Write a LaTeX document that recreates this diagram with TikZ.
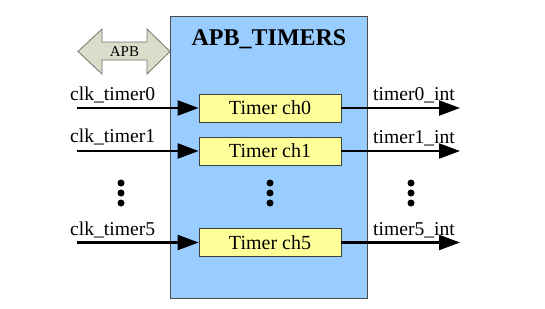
\documentclass[tikz,border=0pt]{standalone}
\usepackage{fontspec}
\setmainfont{Liberation Serif}
\usetikzlibrary{arrows.meta}
\definecolor{blk}{HTML}{99CCFF}
\definecolor{chf}{HTML}{FFFF99}
\definecolor{apbf}{HTML}{DADDC9}
\begin{document}
\begin{tikzpicture}[x=1pt,y=-1pt,
  chbox/.style={draw=black!75,fill=chf,line width=0.8pt,minimum width=142pt,minimum height=28pt,inner sep=0pt,font=\fontsize{20}{21}\selectfont},
  lbl/.style={inner sep=0pt,font=\fontsize{19.6}{21}\selectfont},
  sig/.style={line width=2.2pt,-{Triangle[length=21pt,width=15pt]}},
  vdot/.style={circle,fill=black,inner sep=0pt,minimum size=7pt}]
\useasboundingbox (0,0) rectangle (545,308);
% main block
\node[draw=black!70,fill=blk,line width=1pt,minimum width=197pt,minimum height=282pt,inner sep=0pt] (blk) at (268.5,157) {};
\node[inner sep=0pt,font=\fontsize{24}{25}\bfseries\selectfont,anchor=base] (title) at (269,45) {APB\_TIMERS};
% APB arrow
\draw[draw=black!55,fill=apbf,line width=0.8pt] (78,51.5) -- (102,29) -- (102,42) -- (147,42) -- (147,29) -- (170,51.5) -- (147,74) -- (147,60) -- (102,60) -- (102,74) -- cycle;
\node[inner sep=0pt,font=\fontsize{15}{16}\selectfont] (apb) at (124.5,51.5) {APB};
% channels
\node[chbox] (c0) at (270,108) {Timer ch0};
\node[chbox] (c1) at (270,151) {Timer ch1};
\node[chbox] (c5) at (270,242.5) {Timer ch5};
% free ends
\coordinate (i0) at (77,108);
\coordinate (i1) at (77,151);
\coordinate (i5) at (77,242.5);
\coordinate (o0) at (460,108);
\coordinate (o1) at (460,151);
\coordinate (o5) at (460,242.5);
\draw[sig] (i0) -- (c0.west);
\draw[sig] (i1) -- (c1.west);
\draw[sig] (i5) -- (c5.west);
\draw[sig] (c0.east) -- (o0);
\draw[sig] (c1.east) -- (o1);
\draw[sig] (c5.east) -- (o5);
% labels
\node[lbl,anchor=base west] (l0) at (70,100) {clk\_timer0};
\node[lbl,anchor=base west] (l1) at (70,142) {clk\_timer1};
\node[lbl,anchor=base west] (l5) at (70,235) {clk\_timer5};
\node[lbl,anchor=base west] (r0) at (373,100) {timer0\_int};
\node[lbl,anchor=base west] (r1) at (373,143) {timer1\_int};
\node[lbl,anchor=base west] (r5) at (373,235) {timer5\_int};
% dots
\foreach \x/\n in {121/a,270/b,411/c}{
  \node[vdot] (d\n1) at (\x,183) {};
  \node[vdot] (d\n2) at (\x,193) {};
  \node[vdot] (d\n3) at (\x,203) {};
}
\end{tikzpicture}
\end{document}
